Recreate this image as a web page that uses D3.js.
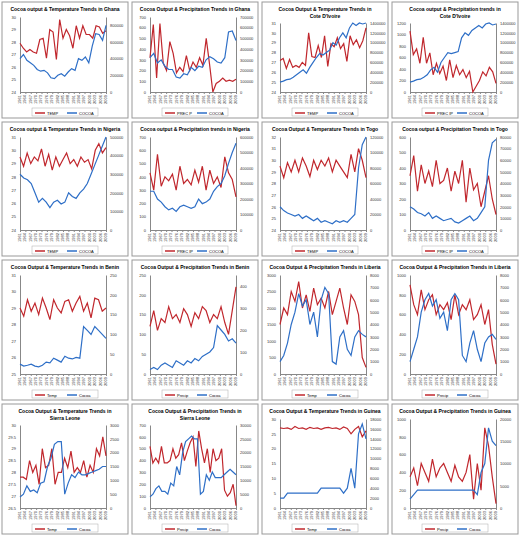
<!DOCTYPE html>
<html><head><meta charset="utf-8">
<script src="https://cdn.jsdelivr.net/npm/d3@7"></script>
<style>body{margin:0;background:#fff}text{font-family:"Liberation Sans",Arial,sans-serif}</style>
</head><body><div id="chart"></div>
<script>
// panel titles, left to right, top to bottom
var titles = ["Cocoa output & Temperature Trends in Ghana","Cocoa Output & Precipitation Trends in Ghana",
  "Cocoa Output & Temperature Trends in Cote D'Ivoire","Cocoa output & Precipitation trends in Cote D'Ivoire",
  "Cocoa output & Temperature Trends in Nigeria","Cocoa output & Precipitation trends in Nigeria",
  "Cocoa Output & Temperature Trends in Togo","Cocoa output & Precipitation Trends in Togo",
  "Cocoa Output & Temperature Trends in Benin","Cocoa Output & Precipitation Trends in Benin",
  "Cocoa Output & Precipitation Trends in Liberia","Cocoa Output & Precipitation Trends in Liberia",
  "Cocoa Output & Temperature Trends in Sierra Leone","Cocoa Output & Precipitation Trends in Sierra Leone",
  "Cocoa Output & Temperature Trends in Guinea","Cocoa Output & Precipitation Trends in Guinea"]
var redNames = ["TEMP","PREC P","TEMP","PREC IP","TEMP","PREC IP","TEMP","PREC IP","Temp","Precip","Temp","Precip","Temp","Precip","Temp","Precip"]
var blueNames = ["COCOA","COCOA","COCOA","COCOA","COCOA","COCOA","COCOA","COCOA","Cocoa","Cocoa","Cocoa","Cocoa","Cocoa","Cocoa","Cocoa","Cocoa"]
var leftDomains = [[24,30],[0,700],[24,31],[0,1200],[24,31],[0,700],[24,32],[0,600],[25,31],[0,250],[0,3000],[0,1000],[26.5,30],[0,700],[0,30],[0,1000]]
var rightDomains = [[0,900000],[0,700000],[0,1400000],[0,1400000],[0,500000],[0,600000],[0,120000],[0,80000],[0,250],[0,450],[0,8000],[0,8000],[0,3000],[0,30000],[0,18000],[0,20000]]

// red series (temperature / precipitation)
var redSeries = [
  [27.9,27.5,27.2,27.4,27.2,27.1,28.2,28.3,26.7,29,28.8,26.6,29.8,28.3,29,28.5,27.5,29.3,28.3,29.3,28.6,28.6,28.3,29.3,29.2,28.7,28.9],
  [320,630,130,640,270,200,470,360,180,230,190,340,200,280,230,320,250,500,260,0,80,100,130,100,110,100,120],
  [27.2,27.4,26.4,27.3,26.5,26.7,26.5,27,26.7,30,27.6,27.5,28.7,27.5,29.7,26.6,28.9,28.6,29.5,28.4,28.9,27.1,29.7,28.8,29.3,28.5,29.2,30.5],
  [1060,650,750,500,950,500,680,300,500,320,450,200,560,250,460,300,390,250,360,0,100,200,350,280,430,350,150],
  [29.5,28.8,29.8,29,29.5,29.2,30.1,28.8,29.7,28.5,29.5,28.8,29.3,29.8,29,29.3,28.8,29.5,29.1,29.3,28.6,30,30.5,29.8,30.2],
  [430,300,570,330,400,370,420,300,480,350,380,340,450,360,480,300,450,350,400,320,550,430,380,250],
  [29.5,28.5,29.8,29,30,29,30.2,29.5,28.6,30,29.2,30,29.5,30.2,29,30,29.5,29,28.5,30.5,29,31,30,28.5],
  [350,480,250,420,300,380,280,450,300,320,400,250,380,300,450,180,400,260,300,150,250,350,200,100],
  [29,28.5,29.5,28.8,29.3,28.6,29.6,29,28.3,29.5,29,28.7,29.4,29.5,28.8,29.3,29.7,28.8,29.3,28.4,29.6,29.5,28.8,29],
  [120,160,110,140,130,170,140,150,130,165,150,120,155,140,170,160,130,150,140,170,130,100,160,220],
  [1500,2000,1800,2500,2200,2800,2000,2400,1900,2600,2100,2300,2000,2500,1800,2200,2600,2000,1500,2400,2200,1800,500,200],
  [900,700,600,850,650,750,800,600,700,650,720,550,800,600,700,650,750,550,600,700,500,650,300,100],
  [27.8,27.8,27.7,28.5,28,28.3,27.5,29,28.2,28.3,29,27.5,28,28,28.6,28.2,28.9,28,28.2,28,28.5,27.8,28.3,28,29,28.7,29.5,28.7],
  [520,380,420,380,520,380,380,400,500,420,450,550,400,480,550,600,350,650,500,380,500,300,500,400,420,500,150,100,130,200,20],
  [27,26.8,27,26.5,27.5,26.8,27,26.5,27.2,26.8,27,26.5,27,27.2,26.8,27,26.5,27.3,26.8,25,26.5,27.5,24,26],
  [350,450,250,500,400,300,550,350,450,500,400,300,480,350,300,400,600,100,500,200,900,700,350,50]]

// blue series (cocoa output)
var blueSeries = [
  [400000,450000,380000,350000,320000,270000,250000,260000,230000,170000,160000,200000,220000,190000,240000,280000,260000,400000,380000,420000,350000,550000,700000,690000,620000,800000],
  [320000,360000,270000,300000,240000,210000,210000,140000,130000,170000,160000,230000,200000,240000,230000,300000,330000,310000,280000,270000,320000,560000,570000,480000],
  [200000,220000,250000,260000,300000,350000,400000,450000,380000,500000,600000,700000,780000,750000,800000,850000,1000000,950000,1100000,1200000,1100000,1300000,1400000,1350000,1400000,1380000,1400000],
  [200000,220000,250000,260000,300000,350000,450000,500000,400000,600000,700000,800000,780000,800000,820000,1100000,1200000,1150000,1250000,1300000,1350000,1300000,1380000,1400000,1360000,1380000],
  [300000,280000,270000,250000,200000,150000,170000,150000,120000,150000,160000,140000,150000,200000,180000,170000,200000,220000,250000,300000,350000,400000,450000,500000],
  [250000,250000,200000,180000,150000,130000,140000,120000,150000,160000,150000,140000,150000,200000,170000,180000,200000,250000,280000,300000,350000,430000,500000,560000],
  [30000,25000,22000,20000,18000,20000,15000,18000,15000,12000,15000,10000,12000,10000,8000,12000,10000,12000,10000,15000,20000,80000,110000,120000],
  [20000,18000,15000,14000,12000,15000,10000,12000,10000,8000,9000,10000,7000,6000,8000,10000,12000,8000,10000,15000,20000,60000,75000,78000],
  [25,20,22,25,20,18,22,30,28,40,35,30,45,40,38,42,40,120,110,100,120,110,100,90],
  [20,30,20,40,50,40,30,60,50,40,60,50,70,60,80,90,100,120,220,200,180,150,160,140],
  [1000,1500,2500,4000,5000,6500,5500,6000,4000,5000,3000,6000,7000,6500,1000,800,3000,3500,2000,1500,3000,3500,3200,3000],
  [1000,2000,3000,5000,6000,6500,5500,6000,4500,5000,3500,6000,6500,6000,1500,1000,2500,3500,2000,1000,2500,3000,3200,2800],
  [400,500,800,600,650,550,900,950,1500,1800,2300,2400,2400,500,900,1200,1100,1300,1200,1200,1250,1300,1350,1400,1500,1500],
  [4000,5000,7000,8000,6000,6000,5000,9000,8000,15000,12000,20000,24000,25000,26000,25000,25000,5000,6000,12000,10000,13000,11000,11000,11000,12000,13000,14000,13000,12000],
  [2000,2000,3000,3000,3000,3000,3000,3000,3000,3000,3000,4000,4000,4000,4000,4000,4000,3000,4000,8000,4000,15000,17000,14000],
  [2000,3000,4000,4000,4000,4000,4000,4000,4000,4000,4000,4000,4000,4000,4000,4000,4000,4000,3000,8000,10000,18000,15000,14000]]

var firstYear = 1961, lastYear = 2009

var W = 520, H = 536
var svg = d3.select("#chart").append("svg").attr("width", W).attr("height", H)
svg.append("rect").attr("width", W).attr("height", H).attr("fill", "#fff")

var colX = [0, 130, 260, 390, 520]
var rowY = [0, 120, 258, 402, 536]

var fmtLeft = d3.format("~g")
var fmtRight = d3.format("d")

for (var p = 0; p < 16; p++) {
  var c = p % 4, r = Math.floor(p / 4)
  var x0 = colX[c] + 2, y0 = rowY[r] + 2
  var pw = colX[c+1] - colX[c] - 4, ph = rowY[r+1] - rowY[r] - 4
  var g = svg.append("g").attr("transform", "translate(" + x0 + "," + y0 + ")")
  g.append("rect").attr("width", pw).attr("height", ph).attr("fill", "#fff")
    .attr("stroke", "#999").attr("stroke-width", 1)

  // title, wrapped over two lines when long
  var t = g.append("text").attr("x", pw/2).attr("y", 9).attr("text-anchor", "middle")
    .style("font-size", "5px").style("font-weight", "bold").text(titles[p])
  var twoLines = titles[p].length > 46
  if (twoLines) {
    var words = titles[p].split(" ")
    var cut = words.length - 2
    t.text(words.slice(0, cut).join(" "))
    g.append("text").attr("x", pw/2).attr("y", 16).attr("text-anchor", "middle")
      .style("font-size", "5px").style("font-weight", "bold").text(words.slice(cut).join(" "))
  }

  var plotTop = twoLines ? 21 : 15, plotBottom = ph - 26
  var plotLeft = 18, plotRight = pw - 22
  var y1 = d3.scaleLinear().domain(leftDomains[p]).range([plotBottom, plotTop])
  var y2 = d3.scaleLinear().domain(rightDomains[p]).range([plotBottom, plotTop])
  var red = redSeries[p], blue = blueSeries[p]
  var xr = d3.scaleLinear().domain([0, red.length - 1]).range([plotLeft, plotRight])
  var xb = d3.scaleLinear().domain([0, blue.length - 1]).range([plotLeft, plotRight])
  var xy = d3.scaleLinear().domain([firstYear, lastYear]).range([plotLeft, plotRight])

  var ay1 = g.append("g").attr("transform", "translate(" + plotLeft + ",0)")
    .call(d3.axisLeft(y1).ticks(6).tickSize(0).tickFormat(fmtLeft))
  var ay2 = g.append("g").attr("transform", "translate(" + plotRight + ",0)")
    .call(d3.axisRight(y2).ticks(6).tickSize(0).tickFormat(fmtRight))
  var ax = g.append("g").attr("transform", "translate(0," + plotBottom + ")")
    .call(d3.axisBottom(xy).tickValues(d3.range(firstYear, lastYear + 1, 3)).tickSize(2).tickFormat(d3.format("d")))
  ax.selectAll("text").attr("transform", "rotate(-90)").attr("x", -3).attr("y", -1)
    .attr("dy", "0.35em").style("text-anchor", "end")
  ;[ay1, ay2, ax].forEach(function(a) {
    a.selectAll("text").style("font-size", "4px").attr("fill", "#333")
    a.select(".domain").attr("stroke", "#888")
    a.selectAll("line").attr("stroke", "#888")
  })
  ay1.selectAll("text").attr("dx", -1)
  ay2.selectAll("text").attr("dx", 1)

  g.append("path").datum(red).attr("fill", "none").attr("stroke", "#c0272d").attr("stroke-width", 1.2)
    .attr("d", d3.line().x(function(d, i) { return xr(i) }).y(function(d) { return y1(d) }))
  g.append("path").datum(blue).attr("fill", "none").attr("stroke", "#2e6fc7").attr("stroke-width", 1.2)
    .attr("d", d3.line().x(function(d, i) { return xb(i) }).y(function(d) { return y2(d) }))

  // legend
  var lg = g.append("g").attr("transform", "translate(" + (pw/2 - 30) + "," + (ph - 5) + ")")
  lg.append("rect").attr("x", -3).attr("y", -5).attr("width", 66).attr("height", 8)
    .attr("fill", "#fff").attr("stroke", "#aaa").attr("stroke-width", 0.5)
  lg.append("line").attr("x1", 0).attr("x2", 10).attr("stroke", "#c0272d").attr("stroke-width", 1.5)
  lg.append("text").attr("x", 12).attr("y", 1.5).style("font-size", "4px").text(redNames[p])
  lg.append("line").attr("x1", 32).attr("x2", 42).attr("stroke", "#2e6fc7").attr("stroke-width", 1.5)
  lg.append("text").attr("x", 44).attr("y", 1.5).style("font-size", "4px").text(blueNames[p])
}
</script></body></html>
